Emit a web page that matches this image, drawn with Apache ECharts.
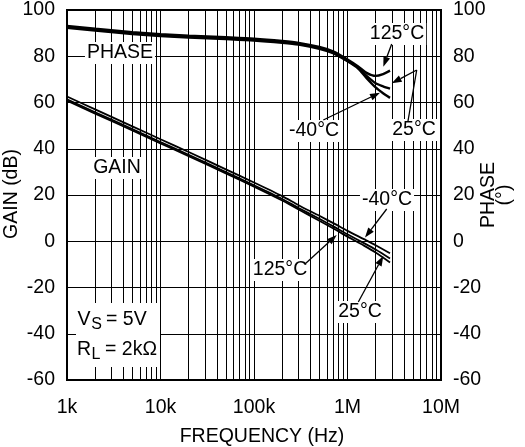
<!DOCTYPE html>
<html>
<head>
<meta charset="utf-8">
<script src="https://cdn.jsdelivr.net/npm/echarts@6/dist/echarts.min.js"></script>
<style>
html,body{margin:0;padding:0;background:#fff;}
#c{width:525px;height:447px;}
</style>
</head>
<body>
<div id="c"></div>
<script>
// ---- data ----
const gainFreq = [1e3, 2e3, 5e3, 1e4, 2e4, 5e4, 1e5, 2e5, 3e5, 5e5, 7.3e5, 1e6, 1.5e6, 2e6, 2.85e6];
const gainM40  = [62.6, 57.0, 49.7, 44.1, 38.6, 31.1, 25.4, 19.5, 15.6, 11.0, 7.5, 4.5, 0.9, -1.7, -5.2];
const gain25   = [61.4, 55.8, 48.5, 42.9, 37.4, 29.9, 24.2, 18.3, 14.4, 9.7, 6.1, 3.0, -0.8, -3.6, -7.5];
const gain125  = [60.8, 55.2, 47.9, 42.3, 36.8, 29.3, 23.6, 17.6, 13.7, 8.9, 5.2, 2.0, -1.9, -4.9, -9.2];

const phaseFreq = [1e3, 2e3, 5e3, 1e4, 2e4, 5e4, 1e5, 2e5, 3e5, 5e5, 7e5, 1e6, 1.3e6, 1.6e6, 2e6, 2.4e6, 2.85e6];
const phaseM40  = [92.3, 91.1, 89.6, 88.7, 88.1, 87.4, 86.8, 85.8, 85.0, 83.2, 81.3, 77.8, 74.7, 70.5, 66.5, 64.0, 62.0];
const phase25   = [92.7, 91.5, 90.0, 89.1, 88.5, 87.8, 87.2, 86.2, 85.4, 83.6, 81.7, 78.2, 75.1, 71.5, 68.3, 67.0, 66.0];
const phase125  = [93.1, 91.9, 90.4, 89.5, 88.9, 88.2, 87.6, 86.6, 85.8, 84.0, 82.1, 78.6, 75.6, 72.8, 71.5, 72.3, 73.8];

const minorFreq = [2e3,3e3,4e3,5e3,6e3,7e3,8e3,9e3,
                   2e4,3e4,4e4,5e4,6e4,7e4,8e4,9e4,
                   2e5,3e5,4e5,5e5,6e5,7e5,8e5,9e5,
                   2e6,3e6,4e6,5e6,6e6,7e6,8e6,9e6];
const xTickLabels = {1000:'1k', 10000:'10k', 100000:'100k', 1000000:'1M', 10000000:'10M'};

const FONT = '"Liberation Sans", Arial, sans-serif';
const FS = 19.5;
const zip = (xs, ys) => xs.map((x, i) => [x, ys[i]]);

const chart = echarts.init(document.getElementById('c'));

function lineSeries(name, data, yIdx, width) {
  return {
    name, type: 'line', data, yAxisIndex: yIdx, showSymbol: false, symbol: 'none',
    smooth: 0.25, lineStyle: { color: '#000', width }, silent: true, z: 3
  };
}

function textEl(text, x, y, opts) {
  opts = opts || {};
  return {
    type: 'text', x, y, z: 100, silent: true, rotation: opts.rotation || 0,
    style: {
      text, font: (opts.size || FS) + 'px ' + FONT, fill: '#000',
      align: opts.align || 'center', verticalAlign: 'middle',
      backgroundColor: opts.bg === false ? null : '#fff',
      padding: opts.padding || [1, 2], lineHeight: opts.lineHeight
    }
  };
}

function arrowEls(x1, y1, x2, y2) {
  const ang = Math.atan2(y2 - y1, x2 - x1);
  const L = 10, Wd = 3.5;
  const bx = x2 - L * Math.cos(ang), by = y2 - L * Math.sin(ang);
  const px = -Math.sin(ang) * Wd, py = Math.cos(ang) * Wd;
  return [
    { type: 'line', z: 101, silent: true, shape: { x1, y1, x2: bx, y2: by }, style: { stroke: '#000', lineWidth: 1.3 } },
    { type: 'polygon', z: 101, silent: true, shape: { points: [[x2, y2], [bx + px, by + py], [bx - px, by - py]] }, style: { fill: '#000' } }
  ];
}

const graphics = [
  textEl('PHASE', 120, 53),
  textEl('GAIN', 117, 168),
  { type: 'rect', z: 99, silent: true, shape: { x: 76, y: 303, width: 84, height: 64 }, style: { fill: '#fff' } },
  textEl('V', 84, 320, { bg: false }),
  textEl('S', 96.5, 325, { bg: false, size: 16 }),
  textEl('= 5V', 104, 320, { bg: false, align: 'left' }),
  textEl('R', 84, 350, { bg: false }),
  textEl('L', 96, 355, { bg: false, size: 16 }),
  textEl('= 2kΩ', 103, 350, { bg: false, align: 'left' }),
  // phase annotations
  textEl('125°C', 397, 34),
  textEl('25°C', 414, 130),
  textEl('-40°C', 314, 131),
  // gain annotations
  textEl('-40°C', 387, 200),
  textEl('125°C', 280, 270),
  textEl('25°C', 360, 312),
  { type: 'line', z: 101, silent: true, shape: { x1: 408, y1: 121, x2: 416.7, y2: 70 }, style: { stroke: '#000', lineWidth: 1.3 } },
  ...arrowEls(416.7, 70, 391.7, 83.3),
  ...arrowEls(391.7, 44, 383.3, 66.7),
  ...arrowEls(323.3, 120, 380, 92.7),
  ...arrowEls(386.7, 209, 365, 237.5),
  ...arrowEls(305, 264, 336.7, 235),
  ...arrowEls(358.3, 302, 383.3, 256),
  // axis titles
  textEl('FREQUENCY (Hz)', 262, 437, { bg: false }),
  textEl('GAIN (dB)', 12, 194, { bg: false, rotation: Math.PI / 2 }),
  textEl('PHASE\n(°)', 497, 195, { bg: false, rotation: Math.PI / 2, lineHeight: 16 })
];

const yAxisCommon = {
  type: 'value', min: -60, max: 100, interval: 20,
  axisLine: { show: true, onZero: false, lineStyle: { color: '#000', width: 2 } },
  axisTick: { show: false },
  axisLabel: { color: '#000', fontSize: FS, fontFamily: FONT, margin: 12 },
  splitLine: { show: true, lineStyle: { color: '#000', width: 1 } }
};

chart.setOption({
  animation: false,
  backgroundColor: '#fff',
  grid: { left: 67, right: 84, top: 6, bottom: 67, show: true, borderColor: '#000', borderWidth: 2, containLabel: false },
  xAxis: {
    type: 'log', logBase: 10, min: 1000, max: 10000000,
    axisLine: { show: true, onZero: false, lineStyle: { color: '#000', width: 2 } },
    axisTick: { show: false },
    axisLabel: { color: '#000', fontSize: FS, fontFamily: FONT, margin: 18,
      formatter: v => xTickLabels[Math.round(v)] || '' },
    splitLine: { show: true, lineStyle: { color: '#000', width: 1 } },
    minorTick: { show: false }, minorSplitLine: { show: false }
  },
  yAxis: [
    Object.assign({}, yAxisCommon, { position: 'left' }),
    Object.assign({}, yAxisCommon, { position: 'right', splitLine: { show: false } })
  ],
  series: [
    {
      type: 'line', data: [], silent: true, z: 1,
      markLine: {
        silent: true, symbol: 'none', animation: false,
        label: { show: false },
        lineStyle: { color: '#000', width: 1, type: 'solid' },
        data: minorFreq.map(f => ({ xAxis: f }))
      }
    },
    lineSeries('Gain -40°C', zip(gainFreq, gainM40), 0, 1.8),
    lineSeries('Gain 25°C', zip(gainFreq, gain25), 0, 1.8),
    lineSeries('Gain 125°C', zip(gainFreq, gain125), 0, 1.8),
    lineSeries('Phase -40°C', zip(phaseFreq, phaseM40), 1, 2.4),
    lineSeries('Phase 25°C', zip(phaseFreq, phase25), 1, 2.4),
    lineSeries('Phase 125°C', zip(phaseFreq, phase125), 1, 2.4)
  ],
  graphic: graphics
});
</script>
</body>
</html>
